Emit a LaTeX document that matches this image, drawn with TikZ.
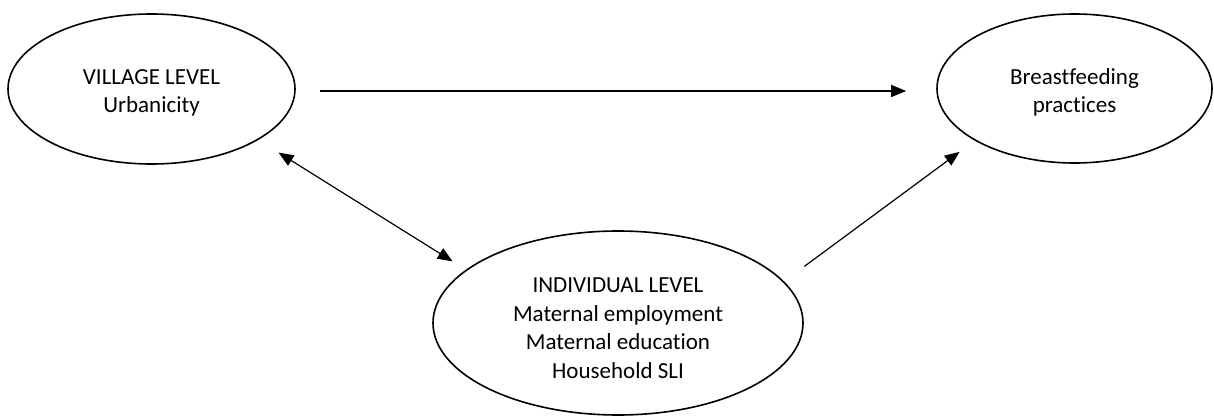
\documentclass[tikz,border=0pt]{standalone}
\usepackage{fontspec}
\setmainfont{Carlito}[Ligatures=NoCommon]
\usepackage{tikz}
\usetikzlibrary{arrows.meta, positioning, shapes.geometric}
\newcommand{\topgap}[1]{\rule{0pt}{#1}}

\begin{document}
\begin{tikzpicture}[
		x=1pt, y=-1pt,
		font=\fontsize{23}{28.5}\selectfont,
		lvl/.style={ellipse, draw, line width=1.6pt, inner sep=0pt, align=center},
		link/.style={-{Triangle[length=15pt, width=12pt]}, line width=1.2pt}
		]
		
		% Frame
		\useasboundingbox (0,0) rectangle (1214,417);
		
		% Levels
		\node[lvl, minimum width=287pt, minimum height=150pt] (village) at (151.5,89) {\topgap{23pt}VILLAGE LEVEL\\Urbanicity};
		\node[lvl, minimum width=275pt, minimum height=149pt] (feeding) at (1074.5,88.5) {\topgap{24pt}Breastfeeding\\practices};
		\node[lvl, minimum width=370pt, minimum height=184pt] (indiv) at (618,323) {\topgap{25pt}INDIVIDUAL LEVEL\\Maternal employment\\Maternal education\\Household SLI};
		
		% Direct path
		\draw[link] ([xshift=24pt, yshift=-2pt]village.east) -- ([xshift=-30pt, yshift=-2.5pt]feeding.west);
		
		% Village <-> individual
		\draw[link, {Triangle[length=15pt, width=12pt]}-{Triangle[length=15pt, width=12pt]}]
		([xshift=25pt, yshift=-10pt]village.south east) -- ([xshift=-34pt, yshift=-4pt]indiv.north west);
		
		% Individual path
		\draw[link] ([xshift=55pt, yshift=-9pt]indiv.north east) -- ([xshift=-17pt, yshift=-10pt]feeding.south west);
		
	\end{tikzpicture}
\end{document}
